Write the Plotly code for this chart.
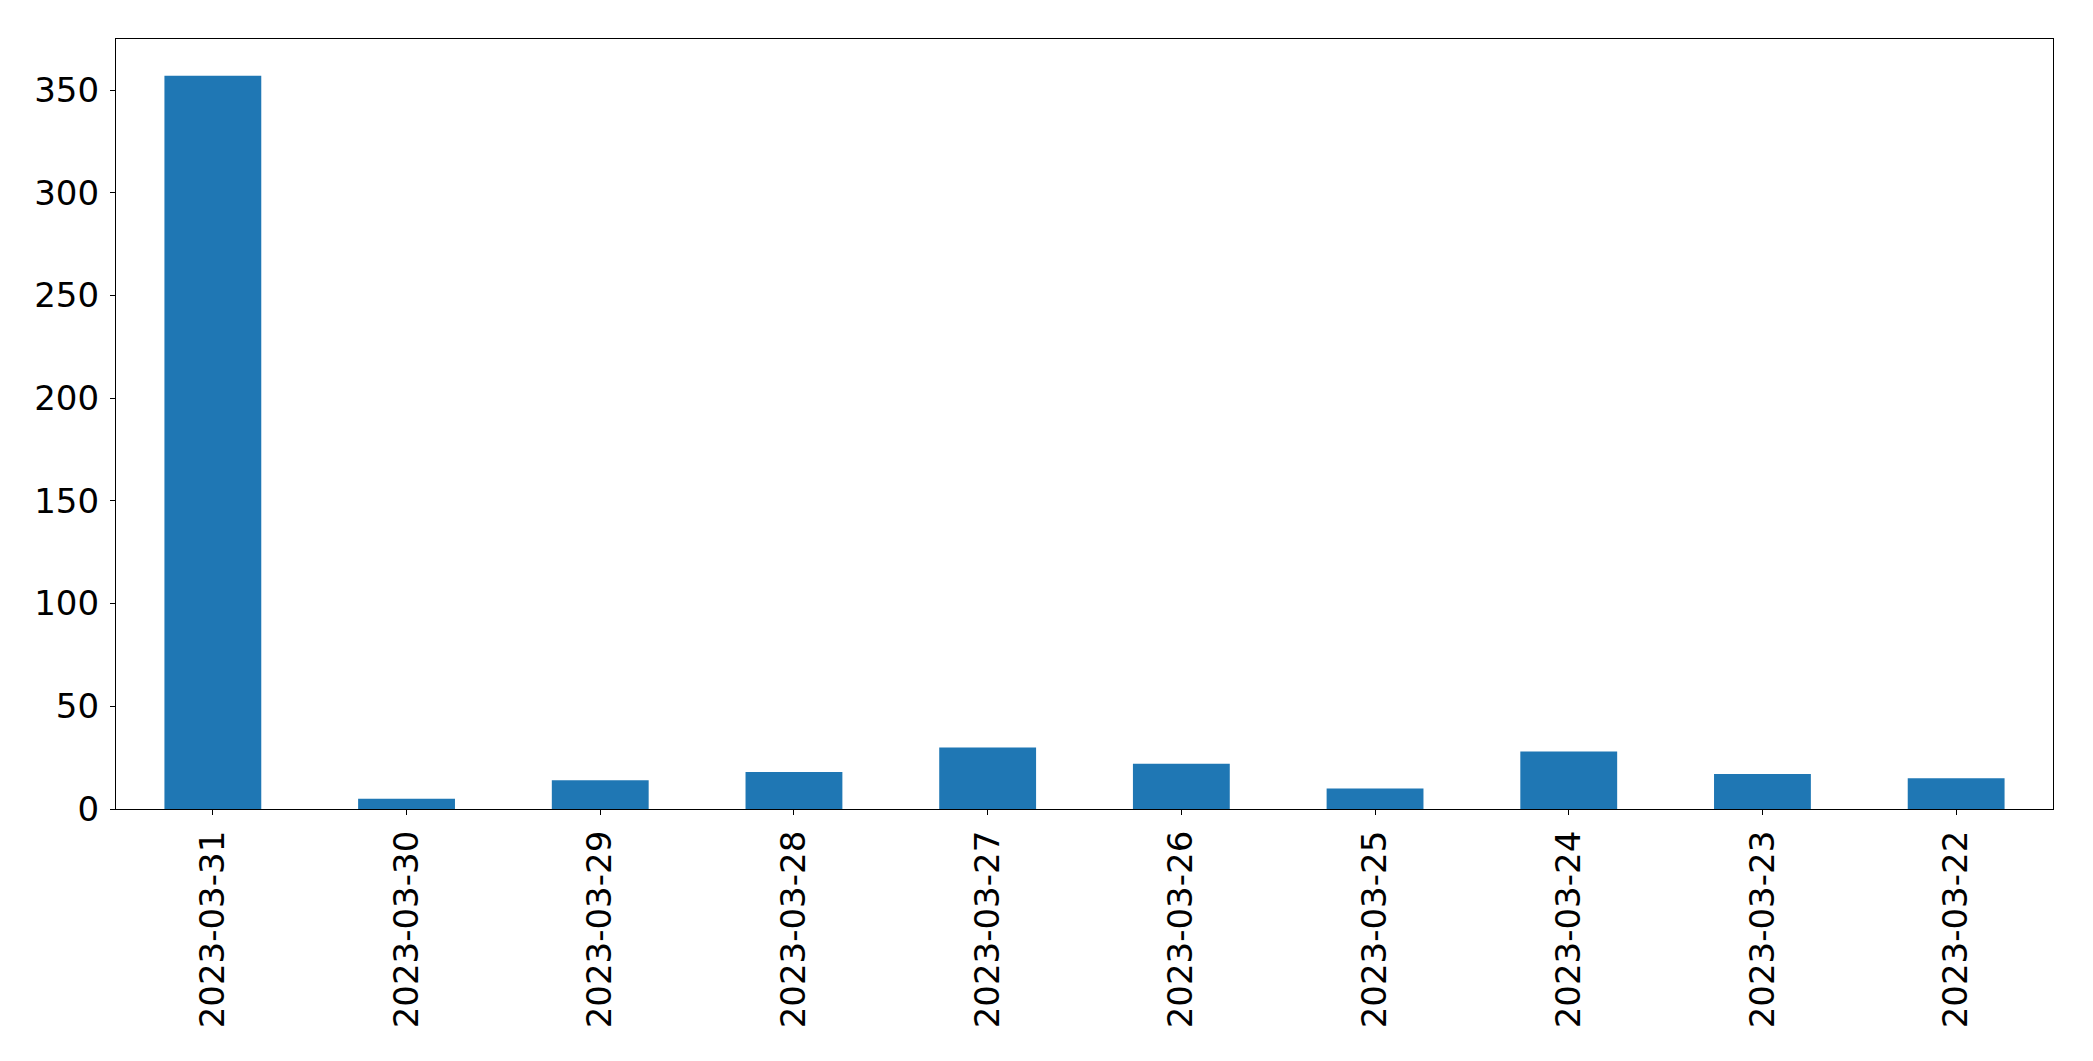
import plotly.graph_objects as go

dates = ["2023-03-31", "2023-03-30", "2023-03-29", "2023-03-28", "2023-03-27",
         "2023-03-26", "2023-03-25", "2023-03-24", "2023-03-23", "2023-03-22"]
counts = [357, 5, 14, 18, 30, 22, 10, 28, 17, 15]
y_ticks = [0, 50, 100, 150, 200, 250, 300, 350]

fig = go.Figure(go.Bar(x=dates, y=counts, marker_color="#1f77b4", marker_line_width=0))

fig.update_layout(
    width=2093, height=1061,
    margin=dict(l=108, r=48, t=31, b=260),
    paper_bgcolor="white", plot_bgcolor="white",
    font=dict(family="DejaVu Sans", size=34, color="black"),
    bargap=0.5, showlegend=False,
)
fig.update_xaxes(
    type="category", range=[-0.5, len(dates) - 0.5], tickangle=-90,
    showline=True, linecolor="black", linewidth=1.3, mirror=True,
    ticks="outside", ticklen=5, tickcolor="black", showgrid=False,
    ticklabelstandoff=2,
)
fig.update_yaxes(
    range=[0, max(counts) * 1.05], tickvals=y_ticks,
    showline=True, linecolor="black", linewidth=1.3, mirror=True,
    ticks="outside", ticklen=5, tickcolor="black", showgrid=False, zeroline=False,
    ticklabelstandoff=4,
)
fig.write_html("out.html")
